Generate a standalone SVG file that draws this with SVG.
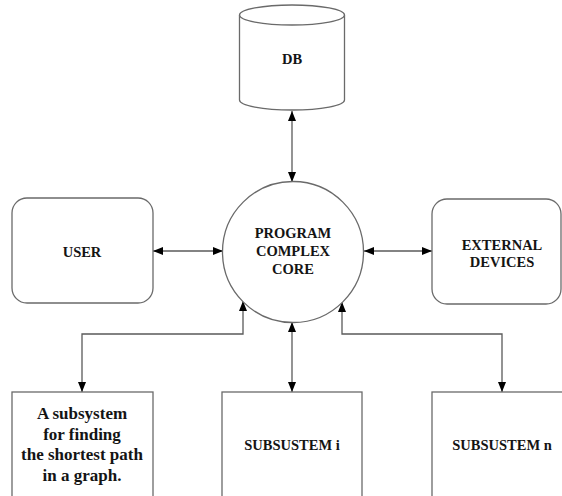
<svg xmlns="http://www.w3.org/2000/svg" width="562" height="496" viewBox="0 0 562 496">
<style>
.shape{fill:#fff;stroke:#6a6a6a;stroke-width:1.3}
text{font-family:'Liberation Serif','DejaVu Serif',serif;font-weight:bold;font-size:14.5px;fill:#141414;text-anchor:middle}
.big{font-size:17px}
.con{fill:none;stroke:#5a5a5a;stroke-width:1.3;marker-start:url(#ah);marker-end:url(#ah)}
</style>
<defs>
<marker id="ah" viewBox="0 0 10 10" refX="10" refY="5" markerWidth="10" markerHeight="10" markerUnits="userSpaceOnUse" orient="auto-start-reverse">
<path d="M0,1 L10,5 L0,9 Z" fill="#000"/>
</marker>
</defs>
<rect width="562" height="496" fill="#fff"/>
<g id="connectors">
<line class="con" x1="292" y1="111" x2="292" y2="182"/>
<line class="con" x1="153" y1="251" x2="223" y2="251"/>
<line class="con" x1="364" y1="251" x2="432" y2="251"/>
<path class="con" d="M243,301 V334 H82 V392"/>
<line class="con" x1="292" y1="322" x2="292" y2="392"/>
<path class="con" d="M342,302 V334 H502 V392"/>
</g>
<g id="db">
<path class="shape" d="M239.5,15 V100 A52.5,10 0 0 0 344.5,100 V15"/>
<ellipse class="shape" cx="292" cy="15" rx="52.5" ry="10"/>
<text x="292" y="64" font-family="Liberation Serif, serif">DB</text>
</g>
<g id="core" font-family="Liberation Serif, serif">
<circle class="shape" cx="293" cy="252" r="70.5"/>
<text x="293" y="238">PROGRAM</text>
<text x="293" y="256">COMPLEX</text>
<text x="293" y="274">CORE</text>
</g>
<g id="user">
<rect class="shape" x="12" y="198" width="141" height="105" rx="15"/>
<text x="82" y="257">USER</text>
</g>
<g id="external">
<rect class="shape" x="432" y="199" width="129" height="105" rx="15"/>
<text x="502" y="250">EXTERNAL</text>
<text x="502" y="267">DEVICES</text>
</g>
<g id="sub-path">
<rect class="shape" x="12" y="392" width="141" height="120"/>
<text class="big" x="82" y="419">A subsystem</text>
<text class="big" x="82" y="440">for finding</text>
<text class="big" x="82" y="460">the shortest path</text>
<text class="big" x="82" y="481">in a graph.</text>
</g>
<g id="sub-i">
<rect class="shape" x="222" y="392" width="140" height="120"/>
<text x="292" y="450">SUBSUSTEM i</text>
</g>
<g id="sub-n">
<rect class="shape" x="432" y="392" width="140" height="120"/>
<text x="502" y="450">SUBSUSTEM n</text>
</g>
</svg>
